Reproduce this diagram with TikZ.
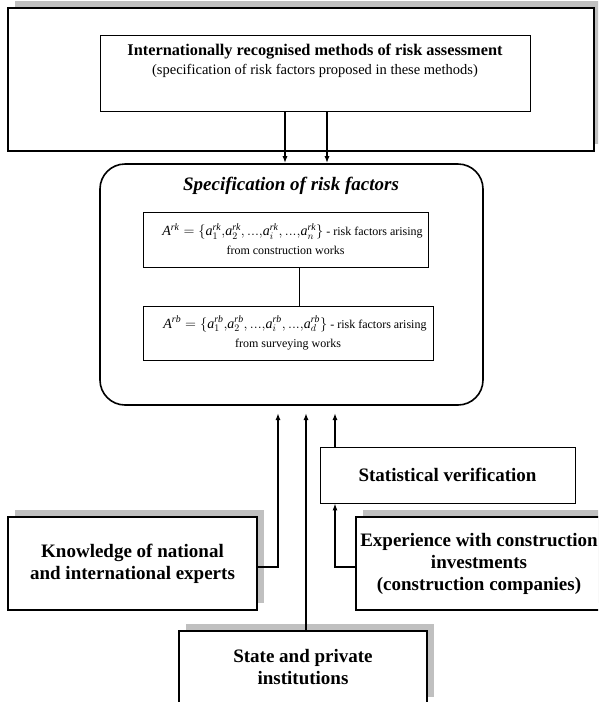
\documentclass[tikz,border=0pt]{standalone}
\usepackage{fontspec}
\setmainfont{Liberation Serif}
\usetikzlibrary{arrows.meta,shadows}
\definecolor{shadowgray}{RGB}{192,192,192}
\newcommand{\fa}[2]{\mathit{a}_{#1}^{\mathit{#2}}}
\newcommand{\cdts}{{,}\,{.}{.}{.}{,}}
\begin{document}
\begin{tikzpicture}[x=1pt,y=-1pt,
  thickbox/.style={draw=black,line width=1.6pt,fill=white,rectangle,inner sep=0pt},
  thinbox/.style={draw=black,line width=0.8pt,fill=white,rectangle,inner sep=0pt},
  shad/.style={drop shadow={shadow xshift=7pt,shadow yshift=7pt,fill=shadowgray,opacity=1}},
  bigtxt/.style={font=\fontsize{19}{22}\selectfont\bfseries,align=center},
  smalltxt/.style={font=\fontsize{12}{19}\selectfont,align=center},
  arr/.style={line width=1.4pt,-{Latex[length=7pt,width=5pt]}},
  ]
\useasboundingbox (0,0) rectangle (598,702);
\clip (0,0) rectangle (598,702);
% outer frame
\node[thickbox,shad,minimum width=586pt,minimum height=143pt] (outer) at (301,79.5) {};
\node[thinbox,minimum width=430pt,minimum height=76pt] (methods) at (315,73) {};
\node[align=center,font=\fontsize{14.5}{19}\selectfont] (methodstext) at (315,61)
  {{\fontsize{16.3}{19}\selectfont\bfseries Internationally recognised methods of risk assessment}\\
   (specification of risk factors proposed in these methods)};
% specification
\node[draw=black,line width=1.6pt,rounded corners=25pt,minimum width=383pt,minimum height=241pt,inner sep=0pt] (spec) at (291.5,284.5) {};
\node[font=\fontsize{19}{22}\selectfont\bfseries\itshape] (spectitle) at (291,186) {Specification of risk factors};
\node[thinbox,smalltxt,minimum width=285pt,minimum height=55pt] (rk) at (285.5,239.5)
  {\hspace{14pt}{\fontsize{14}{19}\selectfont$\mathit{A}^{\mathit{rk}}=\{\fa{1}{rk}{,}\fa{2}{rk}\cdts\fa{i}{rk}\cdts\fa{n}{rk}\}$} - risk factors arising\\from construction works};
\node[thinbox,smalltxt,minimum width=290pt,minimum height=54pt] (rb) at (288,333)
  {\hspace{14pt}{\fontsize{14}{19}\selectfont$\mathit{A}^{\mathit{rb}}=\{\fa{1}{rb}{,}\fa{2}{rb}\cdts\fa{i}{rb}\cdts\fa{d}{rb}\}$} - risk factors arising\\from surveying works};
\draw[line width=0.8pt] ([xshift=13.5pt]rk.south) -- ([xshift=13.5pt]rk.south |- rb.north);
% top arrows
\draw[arr] ([xshift=-30pt]methods.south) -- ([xshift=-30pt]methods.south |- spec.north);
\draw[arr] ([xshift=12pt]methods.south) -- ([xshift=12pt]methods.south |- spec.north);
% lower boxes
\node[thinbox,bigtxt,minimum width=255pt,minimum height=56pt] (stats) at (447.5,475) {Statistical verification};
\node[thickbox,shad,bigtxt,minimum width=249pt,minimum height=93pt] (know) at (132.5,563.5) {Knowledge of national\\and international experts};
\node[thickbox,shad,bigtxt,minimum width=246pt,minimum height=93pt] (exper) at (479,563.5) {Experience with construction\\investments\\(construction companies)};
\node[thickbox,shad,bigtxt,minimum width=248pt,minimum height=73pt] (state) at (303,667.5) {State and private\\institutions};
% arrow tips under the specification box
\coordinate (t1) at (278,413);
\coordinate (t2) at (306,413);
\coordinate (t3) at (335,413);
\draw[arr] ([yshift=-3.5pt]know.east) -| (t1);
\draw[arr] ([xshift=3pt]state.north) -- (t2);
\draw[arr] ([xshift=-112.5pt]stats.north) -- (t3);
\draw[arr] ([yshift=-3.5pt]exper.west) -| ([xshift=-112.5pt]stats.south);
\end{tikzpicture}
\end{document}
